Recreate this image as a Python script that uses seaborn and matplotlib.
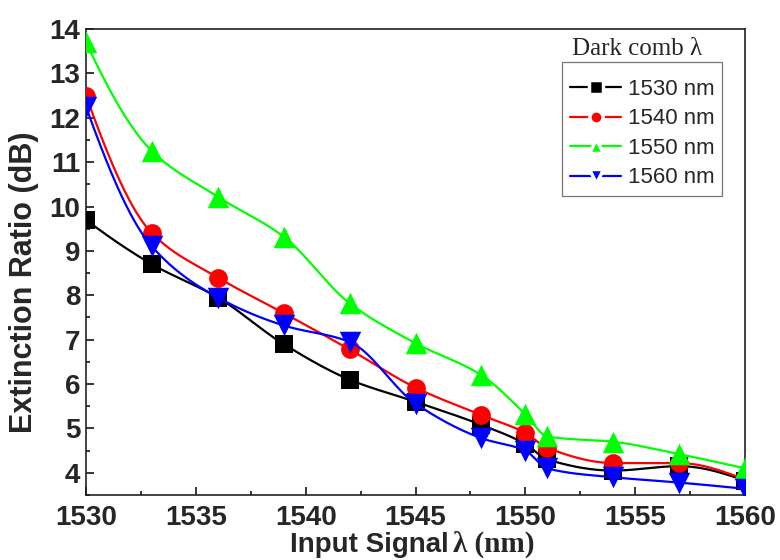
import numpy as np
import pandas as pd
import matplotlib
matplotlib.use("Agg")
import matplotlib.pyplot as plt
from matplotlib.lines import Line2D
import seaborn as sns

# Input signal wavelengths (nm)
signal_nm = [1530, 1533, 1536, 1539, 1542, 1545, 1548, 1550, 1551, 1554, 1557, 1560]

# Extinction ratio (dB) for each dark-comb wavelength
er_1530 = [9.70, 8.70, 7.95, 6.90, 6.10, 5.60, 5.08, 4.65, 4.30, 4.05, 4.15, 3.82]
er_1540 = [12.50, 9.40, 8.40, 7.60, 6.78, 5.92, 5.30, 4.90, 4.56, 4.22, 4.22, 3.85]
er_1550 = [13.70, 11.25, 10.22, 9.32, 7.82, 6.92, 6.20, 5.32, 4.82, 4.70, 4.42, 4.10]
er_1560 = [12.25, 9.10, 7.95, 7.32, 6.95, 5.56, 4.78, 4.50, 4.10, 3.90, 3.78, 3.64]

series_labels = ["1530 nm", "1540 nm", "1550 nm", "1560 nm"]
series_values = [er_1530, er_1540, er_1550, er_1560]
colors = ["#000000", "#ff0000", "#00ff00", "#0000ff"]
markers = ["s", "o", "^", "v"]
marker_sizes = [12.5, 13.5, 15.5, 15.5]

x_ticks = [1530, 1535, 1540, 1545, 1550, 1555, 1560]
y_ticks = [4, 5, 6, 7, 8, 9, 10, 11, 12, 13, 14]

df = pd.DataFrame({
    "signal": np.tile(signal_nm, len(series_labels)),
    "er": np.concatenate(series_values),
    "comb": np.repeat(series_labels, len(signal_nm)),
})


def pchip(x, y, xs):
    """Shape-preserving piecewise cubic Hermite curve through (x, y)."""
    x = np.asarray(x, float)
    y = np.asarray(y, float)
    h = np.diff(x)
    delta = np.diff(y) / h
    n = len(x)
    m = np.zeros(n)
    for i in range(1, n - 1):
        if delta[i - 1] * delta[i] > 0:
            w1 = 2 * h[i] + h[i - 1]
            w2 = h[i] + 2 * h[i - 1]
            m[i] = (w1 + w2) / (w1 / delta[i - 1] + w2 / delta[i])

    def end_slope(h0, h1, d0, d1):
        s = ((2 * h0 + h1) * d0 - h0 * d1) / (h0 + h1)
        if np.sign(s) != np.sign(d0):
            s = 0.0
        elif np.sign(d0) != np.sign(d1) and abs(s) > abs(3 * d0):
            s = 3 * d0
        return s

    m[0] = end_slope(h[0], h[1], delta[0], delta[1])
    m[-1] = end_slope(h[-1], h[-2], delta[-1], delta[-2])
    idx = np.clip(np.searchsorted(x, xs) - 1, 0, n - 2)
    t = (xs - x[idx]) / h[idx]
    h00 = 2 * t ** 3 - 3 * t ** 2 + 1
    h10 = t ** 3 - 2 * t ** 2 + t
    h01 = -2 * t ** 3 + 3 * t ** 2
    h11 = t ** 3 - t ** 2
    return (h00 * y[idx] + h10 * h[idx] * m[idx]
            + h01 * y[idx + 1] + h11 * h[idx] * m[idx + 1])


sns.set_theme(style="ticks")
plt.rcParams["font.family"] = ["Liberation Sans", "DejaVu Sans"]

fig = plt.figure(figsize=(7.8, 5.6), dpi=100)
ax = fig.add_axes([86 / 780, 1 - 495 / 560, (745 - 86) / 780, (495 - 29) / 560])

xs = np.linspace(signal_nm[0], signal_nm[-1], 600)
for k, (lab, col, mk, ms) in enumerate(zip(series_labels, colors, markers, marker_sizes)):
    sub = df[df["comb"] == lab]
    curve = pchip(sub["signal"].values, sub["er"].values, xs)
    sns.lineplot(x=xs, y=curve, color=col, lw=1.6, ax=ax, zorder=3 + 2 * k)
    sns.scatterplot(data=sub, x="signal", y="er", marker=mk, s=ms ** 2,
                    color=col, edgecolor=col, linewidth=0, ax=ax,
                    zorder=4 + 2 * k, legend=False)

ax.set_xlim(1530, 1560)
ax.set_ylim(3.5, 14)
ax.set_xticks(x_ticks)
ax.set_yticks(y_ticks)
ax.set_xticks(np.arange(1530, 1560.1, 2.5), minor=True)
ax.set_yticks(np.arange(3.5, 14.01, 0.5), minor=True)
ax.tick_params(which="both", direction="in", top=False, right=False, width=1.1, color="black")
ax.tick_params(which="major", length=6, labelsize=20)
ax.tick_params(which="minor", length=3)
ax.tick_params(axis="x", pad=7)
ax.tick_params(axis="y", pad=4)
for t in ax.get_xticklabels() + ax.get_yticklabels():
    t.set_fontweight("bold")
for sp in ax.spines.values():
    sp.set_visible(True)
    sp.set_linewidth(1.2)
    sp.set_color("#222222")

ax.set_xlabel("")
ax.set_ylabel("Extinction Ratio (dB)", fontsize=22, fontweight="bold")
ax.yaxis.set_label_coords(-0.072, 0.457)

# x-axis title: sans part and serif part
fig.text(449 / 780, 1 - 552 / 560, "Input Signal", ha="right", va="baseline",
         fontsize=20, fontweight="bold")
fig.text(453 / 780, 1 - 552 / 560, "λ (nm)", ha="left", va="baseline",
         fontsize=21, fontweight="bold", family=["Liberation Serif", "DejaVu Serif"])

# legend (a blank, tiny title adds room above the first entry)
handles = [Line2D([0], [0], color=c, lw=1.6, marker=m, markersize=9.5,
                  markerfacecolor=c, markeredgecolor="white", markeredgewidth=2.5)
           for c, m in zip(colors, markers)]
leg = ax.legend(handles, series_labels, loc="upper right",
                bbox_to_anchor=(722 / 780, 1 - 62 / 560), bbox_transform=fig.transFigure,
                fontsize=16, frameon=True, fancybox=False, edgecolor="#555555",
                handlelength=2.3, handletextpad=0.3, borderpad=0.34,
                labelspacing=0.38, borderaxespad=0,
                title=" ", title_fontsize=1)
leg.get_frame().set_linewidth(0.9)

fig.text(637 / 780, 1 - 55 / 560, "Dark comb λ", ha="center", va="baseline",
         fontsize=18, family=["Liberation Serif", "DejaVu Serif"])

fig.savefig("out.png", dpi=100)
